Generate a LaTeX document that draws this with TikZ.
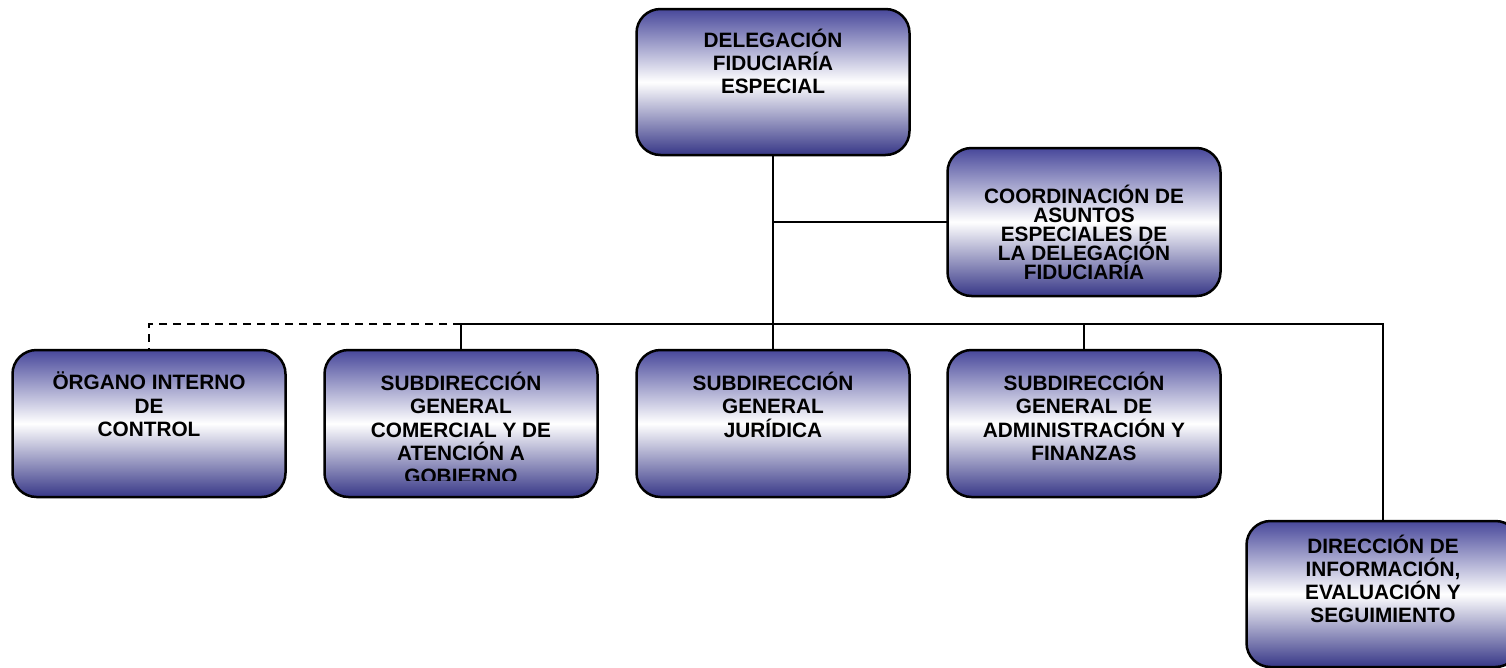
\documentclass[tikz,border=0pt]{standalone}
\usepackage{fontspec}
\setmainfont{Liberation Sans}
\definecolor{bluetop}{RGB}{72,72,155}
\definecolor{bluebot}{RGB}{55,55,135}
\tikzset{
  orgbox/.style={draw=black, line width=2.5pt, rounded corners=24pt,
    top color=bluetop, bottom color=bluebot, middle color=white,
    inner sep=0pt, outer sep=0pt, minimum width=273pt, minimum height=146pt},
  orgtext/.style={anchor=north, inner sep=0pt, align=center,
    font=\fontsize{20.8}{23.2}\selectfont\bfseries},
  conn/.style={line width=1.7pt, draw=black},
}
\begin{document}
\begin{tikzpicture}[x=1pt,y=-1pt]
\useasboundingbox (0,0) rectangle (1506,667);
% boxes
\node[orgbox] (top) at (773,82) {};
\node[orgbox, minimum height=148pt] (coord) at (1084,222) {};
\node[orgbox, minimum height=147pt] (b1) at (149,423.5) {};
\node[orgbox, minimum height=147pt] (b2) at (461,423.5) {};
\node[orgbox, minimum height=147pt] (b3) at (773,423.5) {};
\node[orgbox, minimum height=147pt] (b4) at (1084,423.5) {};
\node[orgbox, minimum height=146pt] (b5) at (1383,594) {};
% connectors
\coordinate (bus) at (0,324);
\draw[conn] (top.south) -- (b3.north);
\draw[conn] (top.south |- coord.west) -- (coord.west);
\draw[conn] (b2.north |- bus) -- (b5.north |- bus) -- (b5.north);
\draw[conn] (b2.north |- bus) -- (b2.north);
\draw[conn] (b4.north |- bus) -- (b4.north);
\draw[conn, dash pattern=on 8pt off 6pt] (b2.north |- bus) -- (b1.north |- bus) -- (b1.north);
% texts
\node[orgtext] (ttop) at (773,28.5) {DELEGACIÓN\\FIDUCIARÍA\\ESPECIAL};
\node[orgtext, font=\fontsize{20.8}{19.2}\selectfont\bfseries] (tcoord) at (1084,184.5) {COORDINACIÓN DE\\ASUNTOS\\ESPECIALES DE\\LA DELEGACIÓN\\FIDUCIARÍA};
\node[orgtext] (t1) at (149,372) {ÖRGANO INTERNO\\DE\\CONTROL};
\begin{scope}
\clip (300,340) rectangle (620,480);
\node[orgtext] (t2) at (461,372) {SUBDIRECCIÓN\\GENERAL\\COMERCIAL Y DE\\ATENCIÓN A\\GOBIERNO};
\end{scope}
\node[orgtext] (t3) at (773,372) {SUBDIRECCIÓN\\GENERAL\\JURÍDICA};
\node[orgtext] (t4) at (1084,372) {SUBDIRECCIÓN\\GENERAL DE\\ADMINISTRACIÓN Y\\FINANZAS};
\node[orgtext] (t5) at (1383,534.5) {DIRECCIÓN DE\\INFORMACIÓN,\\EVALUACIÓN Y\\SEGUIMIENTO};
\end{tikzpicture}
\end{document}
